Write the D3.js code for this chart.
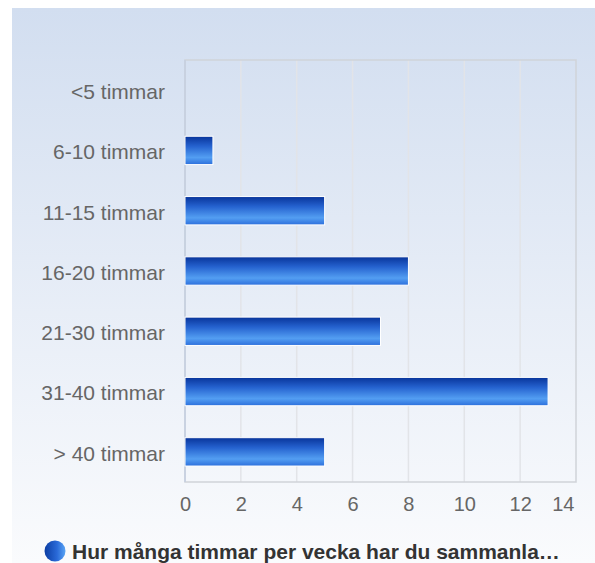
<!DOCTYPE html>
<html>
<head>
<meta charset="utf-8">
<script src="https://cdn.jsdelivr.net/npm/d3@7"></script>
<style>
  body { margin: 0; background: #fff; }
  svg { display: block; font-family: "Liberation Sans", Arial, sans-serif; }
</style>
</head>
<body>
<script>
var categories = ["<5 timmar", "6-10 timmar", "11-15 timmar", "16-20 timmar", "21-30 timmar", "31-40 timmar", "> 40 timmar"];
var values = [0, 1, 5, 8, 7, 13, 5];
var xTicks = [0, 2, 4, 6, 8, 10, 12, 14];
var seriesName = "Hur många timmar per vecka har du sammanla\u2026";

var W = 595, H = 563;
var margin = {top: 60, left: 185, right: 19, bottom: 81};
var width = W - margin.left - margin.right,
    height = H - margin.top - margin.bottom;

var svg = d3.select("body").append("svg")
    .attr("width", W)
    .attr("height", H);

var defs = svg.append("defs");

var bg = defs.append("linearGradient").attr("id", "bg")
    .attr("x1", 0).attr("y1", 0).attr("x2", 0).attr("y2", 1);
bg.append("stop").attr("offset", "0%").attr("stop-color", "#d2def0");
bg.append("stop").attr("offset", "100%").attr("stop-color", "#fafbfd");

var barGrad = defs.append("linearGradient").attr("id", "bar")
    .attr("x1", 0).attr("y1", 0).attr("x2", 0).attr("y2", 1);
barGrad.append("stop").attr("offset", "0%").attr("stop-color", "#08349a");
barGrad.append("stop").attr("offset", "35%").attr("stop-color", "#2562cf");
barGrad.append("stop").attr("offset", "75%").attr("stop-color", "#539ef2");
barGrad.append("stop").attr("offset", "100%").attr("stop-color", "#2c6fdc");

var dotGrad = defs.append("linearGradient").attr("id", "dot")
    .attr("x1", 0).attr("y1", 0).attr("x2", 1).attr("y2", 0);
dotGrad.append("stop").attr("offset", "0%").attr("stop-color", "#0b3da3");
dotGrad.append("stop").attr("offset", "60%").attr("stop-color", "#2a6ad8");
dotGrad.append("stop").attr("offset", "100%").attr("stop-color", "#5aa5f5");

// panel background
svg.append("rect")
    .attr("x", 12).attr("y", 8)
    .attr("width", W - 12).attr("height", H - 8)
    .attr("fill", "url(#bg)");

var x = d3.scaleLinear().domain([0, 14]).range([0, width]);
var y = d3.scaleBand().domain(categories).range([0, height])
    .paddingInner(0.53).paddingOuter(0.265);

var g = svg.append("g")
    .attr("transform", "translate(" + margin.left + "," + margin.top + ")");

// grid
g.selectAll(".grid")
    .data(xTicks.slice(1, -1))
  .enter().append("line")
    .attr("x1", function(d) { return x(d); })
    .attr("x2", function(d) { return x(d); })
    .attr("y1", 0).attr("y2", height)
    .attr("stroke", "#e2e4e8")
    .attr("stroke-width", 1.5);

// frame
g.append("rect")
    .attr("width", width).attr("height", height)
    .attr("fill", "none")
    .attr("stroke", "#d0d3d9")
    .attr("stroke-width", 1.5);
g.append("line")
    .attr("x1", 0).attr("x2", 0).attr("y1", 0).attr("y2", height)
    .attr("stroke", "#c5cfe0").attr("stroke-width", 1.5);

// bars
g.selectAll(".bar")
    .data(values.map(function(v, i) { return {cat: categories[i], v: v}; }).filter(function(d) { return d.v > 0; }))
  .enter().append("rect")
    .attr("x", x(0))
    .attr("y", function(d) { return y(d.cat); })
    .attr("width", function(d) { return x(d.v) - x(0); })
    .attr("height", y.bandwidth())
    .attr("fill", "url(#bar)")
    .attr("stroke", "#fff")
    .attr("stroke-width", 1);

// y labels
var yAxis = g.append("g").call(d3.axisLeft(y).tickSize(0).tickPadding(20));
yAxis.select(".domain").remove();
yAxis.selectAll("text")
    .attr("font-size", 21)
    .attr("dy", "0.42em")
    .attr("font-family", "Liberation Sans, Arial, sans-serif")
    .attr("fill", "#666");

// x labels
var xAxis = g.append("g")
    .attr("transform", "translate(0," + height + ")")
    .call(d3.axisBottom(x).tickValues(xTicks).tickSize(0).tickPadding(15));
xAxis.select(".domain").remove();
xAxis.selectAll("text")
    .attr("font-size", 20)
    .attr("font-family", "Liberation Sans, Arial, sans-serif")
    .attr("fill", "#666");
// last label kept inside the panel
xAxis.selectAll(".tick").filter(function(d) { return d === xTicks[xTicks.length - 1]; })
    .select("text")
    .attr("text-anchor", "end")
    .attr("x", -2);

// legend
svg.append("circle")
    .attr("cx", 55).attr("cy", 551).attr("r", 10.5)
    .attr("fill", "url(#dot)");
svg.append("text")
    .attr("x", 72).attr("y", 559)
    .attr("font-size", 21)
    .attr("font-weight", "bold")
    .attr("fill", "#333")
    .text(seriesName);
</script>
</body>
</html>
